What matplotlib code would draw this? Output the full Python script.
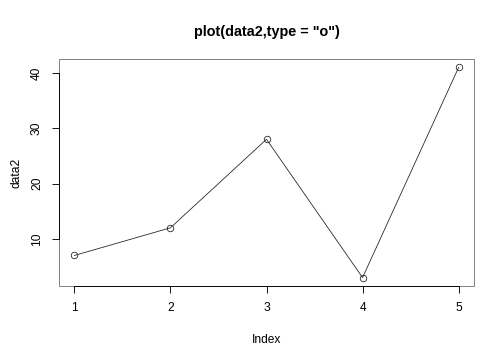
import matplotlib
matplotlib.use('Agg')
import matplotlib.pyplot as plt
from matplotlib.patches import Rectangle

plt.rcParams['font.family'] = ['Liberation Sans', 'DejaVu Sans']

# data
index = [1, 2, 3, 4, 5]
data2 = [7, 12, 28, 3, 41]
xticks = [1, 2, 3, 4, 5]
yticks = [10, 20, 30, 40]

fig = plt.figure(figsize=(7, 5), dpi=72)
ax = fig.add_axes([59/504, 74/360, 415/504, 227/360])

ax.plot(index, data2, color='#222222', lw=0.8, marker='o', ms=6.5,
        mfc='none', mec='#222222', mew=0.8)

# R style 4% padding
xr = max(index) - min(index)
yr = max(data2) - min(data2)
ax.set_xlim(min(index) - 0.04*xr, max(index) + 0.04*xr)
ax.set_ylim(min(data2) - 0.04*yr, max(data2) + 0.04*yr)

for s in ['top', 'right']:
    ax.spines[s].set_visible(False)
ax.spines['bottom'].set_bounds(1, 5)
ax.spines['left'].set_bounds(10, 40)
ax.spines['bottom'].set_linewidth(0.9)
ax.spines['left'].set_linewidth(0.9)
ax.add_patch(Rectangle((0, 0), 1, 1, transform=ax.transAxes, fill=False,
                       edgecolor='#777777', lw=0.9, clip_on=False))

ax.set_xticks(xticks)
ax.set_yticks(yticks)
ax.tick_params(direction='out', length=7, width=0.9, labelsize=12, colors='black')
ax.tick_params(axis='x', pad=9)
ax.tick_params(axis='y', pad=9)
for lab in ax.get_yticklabels():
    lab.set_rotation(90)
    lab.set_va('center')

ax.set_xlabel('Index', fontsize=12, labelpad=20)
ax.set_ylabel('data2', fontsize=12, labelpad=8)
ax.set_title('plot(data2,type = "o")', fontsize=14.4, fontweight='bold', pad=23)

plt.savefig('out.png', dpi=72)
